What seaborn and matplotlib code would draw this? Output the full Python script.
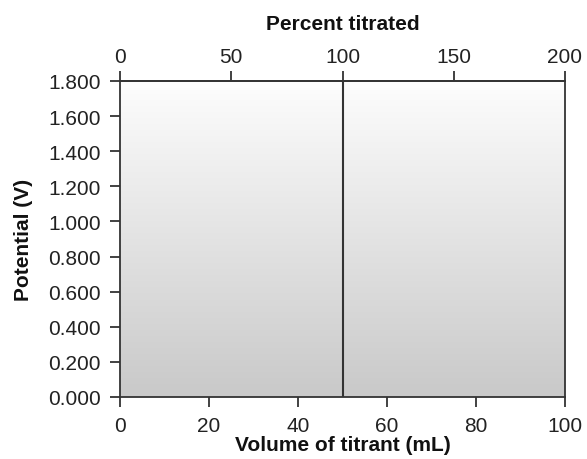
import numpy as np
import pandas as pd
import matplotlib
matplotlib.use("Agg")
import matplotlib.pyplot as plt
import seaborn as sns
from matplotlib.colors import LinearSegmentedColormap

# data
volume_ticks = [0, 20, 40, 60, 80, 100]
percent_ticks = [0, 50, 100, 150, 200]
potential_ticks = [0.0, 0.2, 0.4, 0.6, 0.8, 1.0, 1.2, 1.4, 1.6, 1.8]
equiv_volume = [50, 50]
equiv_potential = [0.0, 1.8]

sns.set_theme(style="ticks")
plt.rcParams['font.family'] = ['Liberation Sans', 'DejaVu Sans']

FS = 15

fig = plt.figure(figsize=(5.87, 4.60), dpi=100)
ax = fig.add_axes([120/587, 1-398/460, (565-120)/587, (398-82)/460])

# gradient background
cmap = LinearSegmentedColormap.from_list("bg", ["#c9c9c9", "#fdfdfd"])
grad = np.linspace(0, 1, 256).reshape(-1, 1)
ax.imshow(grad, extent=[0, 1, 0, 1], transform=ax.transAxes, cmap=cmap,
          aspect="auto", origin="lower", zorder=0)

df = pd.DataFrame({"volume": equiv_volume, "potential": equiv_potential})
sns.lineplot(data=df, x="volume", y="potential", estimator=None, sort=False,
             color="#333333", linewidth=1.5, ax=ax, zorder=3)

ax.set_xlim(0, 100)
ax.set_ylim(0, 1.8)
ax.set_xticks(volume_ticks)
ax.set_yticks(potential_ticks)
ax.set_yticklabels([f"{v:.3f}" for v in potential_ticks])

for s in ax.spines.values():
    s.set_visible(True)
    s.set_color("#333333")
    s.set_linewidth(1.3)

ax.tick_params(axis="both", direction="out", length=7, width=1.3,
               color="#333333", labelsize=FS, labelcolor="#222222")
ax.tick_params(axis="y", pad=7)
ax.tick_params(axis="x", pad=7)

ax.set_xlabel("Volume of titrant (mL)", fontsize=FS, fontweight="bold",
              color="#111111", labelpad=0)
ax.set_ylabel("Potential (V)", fontsize=FS, fontweight="bold",
              color="#111111", labelpad=11)

sec = ax.secondary_xaxis("top", functions=(lambda v: v * 2, lambda p: p / 2))
sec.set_xticks(percent_ticks)
sec.spines["top"].set_color("#333333")
sec.spines["top"].set_linewidth(1.3)
sec.tick_params(axis="x", direction="out", length=7, width=1.3,
                color="#333333", labelsize=FS, labelcolor="#222222", pad=4)
sec.set_xlabel("Percent titrated", fontsize=FS, fontweight="bold",
               color="#111111", labelpad=13)

fig.savefig("out.png", dpi=100)
